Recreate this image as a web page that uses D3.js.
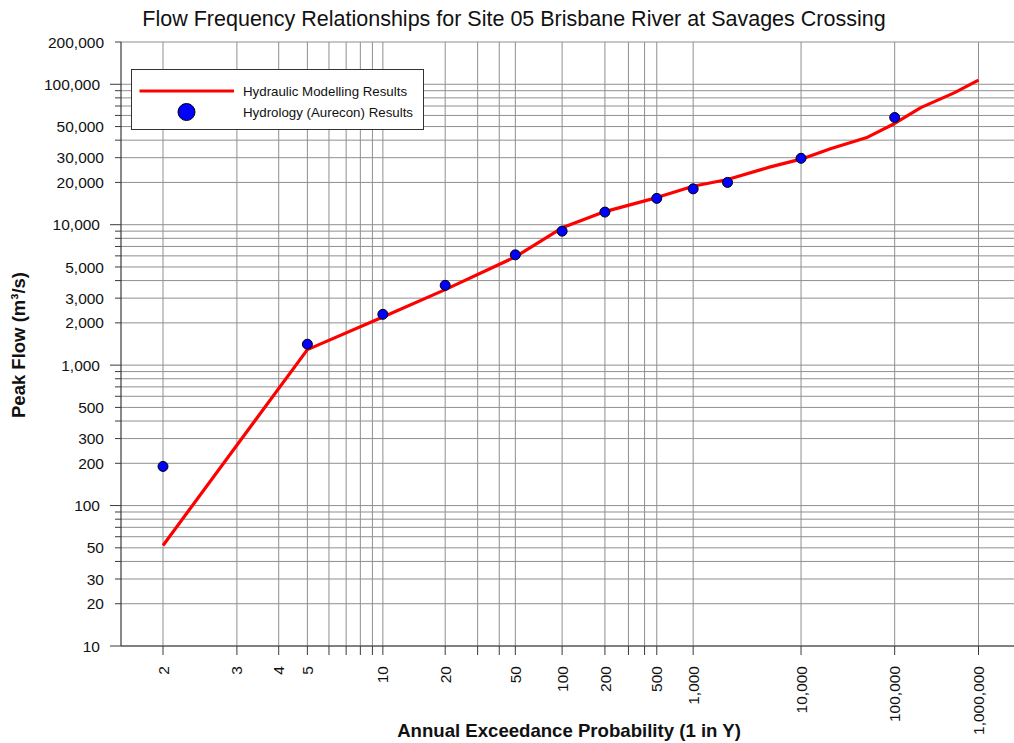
<!DOCTYPE html>
<html>
<head>
<meta charset="utf-8">
<script src="https://cdn.jsdelivr.net/npm/d3@7"></script>
<style>
html,body{margin:0;padding:0;background:#fff;}
svg{display:block;font-family:"Liberation Sans",Arial,sans-serif;}
</style>
</head>
<body>
<svg id="chart" width="1014" height="743"></svg>
<script>
// ---- data ----
const lineAEP  = [2, 5, 10, 20, 50, 100, 200, 500, 1000, 2000, 5000, 10000, 20000, 50000, 100000, 200000, 500000, 1000000];
const lineFlow = [52, 1290, 2200, 3450, 5900, 9500, 12400, 15600, 18800, 21000, 25800, 29300, 34700, 42000, 52600, 68200, 86900, 107000];
const dotAEP   = [2, 5, 10, 20, 50, 100, 200, 500, 1000, 2000, 10000, 100000];
const dotFlow  = [190, 1410, 2300, 3700, 6100, 9000, 12300, 15400, 18000, 20000, 29700, 58000];
const xGrid    = [2,3,4,5,6,7,8,9,10,20,30,40,50,100,200,300,400,500,1000,10000,100000,1000000];
const xLabels  = [2,3,4,5,10,20,50,100,200,500,1000,10000,100000,1000000];
const yGrid    = [];
for (let e = 1; e <= 5; e++) for (let m = 1; m <= 9; m++) { const v = m * Math.pow(10, e); if (v <= 200000) yGrid.push(v); }
const yLabels  = [10,20,30,50,100,200,300,500,1000,2000,3000,5000,10000,20000,30000,50000,100000,200000];

const titleText = "Flow Frequency Relationships for Site 05 Brisbane River at Savages Crossing";
const xTitle = "Annual Exceedance Probability (1 in Y)";
const yTitle = "Peak Flow (m³/s)";
const legendNames = ["Hydraulic Modelling Results", "Hydrology (Aurecon) Results"];

// inverse normal CDF (Acklam)
function probit(p) {
  const a=[-3.969683028665376e+01,2.209460984245205e+02,-2.759285104469687e+02,1.383577518672690e+02,-3.066479806614716e+01,2.506628277459239e+00];
  const b=[-5.447609879822406e+01,1.615858368580409e+02,-1.556989798598866e+02,6.680131188771972e+01,-1.328068155288572e+01];
  const c=[-7.784894002430293e-03,-3.223964580411365e-01,-2.400758277161838e+00,-2.549732539343734e+00,4.374664141464968e+00,2.938163982698783e+00];
  const d=[7.784695709041462e-03,3.224671290700398e-01,2.445134137142996e+00,3.754408661907416e+00];
  const pl=0.02425, ph=1-pl;
  let q, r;
  if (p < pl) { q=Math.sqrt(-2*Math.log(p)); return (((((c[0]*q+c[1])*q+c[2])*q+c[3])*q+c[4])*q+c[5])/((((d[0]*q+d[1])*q+d[2])*q+d[3])*q+1); }
  if (p <= ph) { q=p-0.5; r=q*q; return (((((a[0]*r+a[1])*r+a[2])*r+a[3])*r+a[4])*r+a[5])*q/(((((b[0]*r+b[1])*r+b[2])*r+b[3])*r+b[4])*r+1); }
  q=Math.sqrt(-2*Math.log(1-p)); return -(((((c[0]*q+c[1])*q+c[2])*q+c[3])*q+c[4])*q+c[5])/((((d[0]*q+d[1])*q+d[2])*q+d[3])*q+1);
}
const zOf = Y => probit(1 - 1 / Y);

const L = 121, R = 1014, T = 42, B = 646;
const xz = d3.scaleLinear().domain([zOf(2), zOf(1000000)]).range([163, 978.5]);
const x = Y => xz(zOf(Y));
const y = d3.scaleLog().domain([10, 200000]).range([B, T]);

const svg = d3.select("#chart");
const gridColor = "#8f8f8f";
const axisColor = "#3a3a3a";

// grid
svg.append("g").selectAll("line").data(yGrid).join("line")
  .attr("x1", L).attr("x2", R).attr("y1", d => y(d)).attr("y2", d => y(d))
  .attr("stroke", gridColor).attr("stroke-width", 1);
svg.append("g").selectAll("line").data(xGrid).join("line")
  .attr("x1", d => x(d)).attr("x2", d => x(d)).attr("y1", T).attr("y2", B)
  .attr("stroke", gridColor).attr("stroke-width", 1);

// axes lines
svg.append("line").attr("x1", L).attr("x2", L).attr("y1", T).attr("y2", B).attr("stroke", axisColor).attr("stroke-width", 1.2);
svg.append("line").attr("x1", L).attr("x2", R).attr("y1", B).attr("y2", B).attr("stroke", axisColor).attr("stroke-width", 1.2);

// y ticks
const isPow10 = v => Math.abs(Math.log10(v) - Math.round(Math.log10(v))) < 1e-9;
svg.append("g").selectAll("line").data(yGrid).join("line")
  .attr("x1", d => isPow10(d) ? L - 11 : L - 6).attr("x2", L)
  .attr("y1", d => y(d)).attr("y2", d => y(d))
  .attr("stroke", axisColor).attr("stroke-width", 1);
const fmt = d3.format(",");
svg.append("g").selectAll("text").data(yLabels).join("text")
  .attr("x", d => isPow10(d) ? L - 21 : L - 17)
  .attr("y", d => y(d)).attr("dy", "0.36em")
  .attr("text-anchor", "end").attr("font-size", 15.5).attr("fill", "#111")
  .text(d => fmt(d));

// x ticks
svg.append("g").selectAll("line").data(xGrid).join("line")
  .attr("x1", d => x(d)).attr("x2", d => x(d)).attr("y1", B).attr("y2", B + 9)
  .attr("stroke", axisColor).attr("stroke-width", 1);
svg.append("g").selectAll("text").data(xLabels).join("text")
  .attr("transform", d => `translate(${x(d)},${B + 20}) rotate(-90)`)
  .attr("dy", "0.36em").attr("text-anchor", "end")
  .attr("font-size", 15.5).attr("fill", "#111")
  .text(d => fmt(d));

// series line
const lineData = lineAEP.map((a, i) => [a, lineFlow[i]]);
svg.append("path").datum(lineData)
  .attr("d", d3.line().x(d => x(d[0])).y(d => y(d[1])))
  .attr("fill", "none").attr("stroke", "#ff0000").attr("stroke-width", 3.2)
  .attr("stroke-linejoin", "round");

// dots
const dotData = dotAEP.map((a, i) => [a, dotFlow[i]]);
svg.append("g").selectAll("circle").data(dotData).join("circle")
  .attr("cx", d => x(d[0])).attr("cy", d => y(d[1])).attr("r", 5)
  .attr("fill", "#0000ff").attr("stroke", "#000").attr("stroke-width", 1);

// title
svg.append("text").attr("x", 514).attr("y", 26).attr("text-anchor", "middle")
  .attr("font-size", 21.5).attr("fill", "#111").text(titleText);

// axis titles
svg.append("text").attr("x", 569).attr("y", 737).attr("text-anchor", "middle")
  .attr("font-size", 18.6).attr("font-weight", "bold").attr("fill", "#111").text(xTitle);
svg.append("text").attr("transform", "translate(25,345) rotate(-90)").attr("text-anchor", "middle")
  .attr("font-size", 18.5).attr("font-weight", "bold").attr("fill", "#111").text(yTitle);

// legend
const lg = svg.append("g");
lg.append("rect").attr("x", 131.5).attr("y", 69.5).attr("width", 292).attr("height", 60)
  .attr("fill", "#fff").attr("stroke", "#333").attr("stroke-width", 1);
lg.append("line").attr("x1", 139.5).attr("x2", 234).attr("y1", 91).attr("y2", 91)
  .attr("stroke", "#ff0000").attr("stroke-width", 3.2);
lg.append("circle").attr("cx", 186.5).attr("cy", 112).attr("r", 8.5)
  .attr("fill", "#0000ff").attr("stroke", "#000").attr("stroke-width", 1);
lg.selectAll("text").data(legendNames).join("text")
  .attr("x", 243).attr("y", (d, i) => 91 + i * 21).attr("dy", "0.36em")
  .attr("font-size", 13.3).attr("fill", "#111").text(d => d);
</script>
</body>
</html>
